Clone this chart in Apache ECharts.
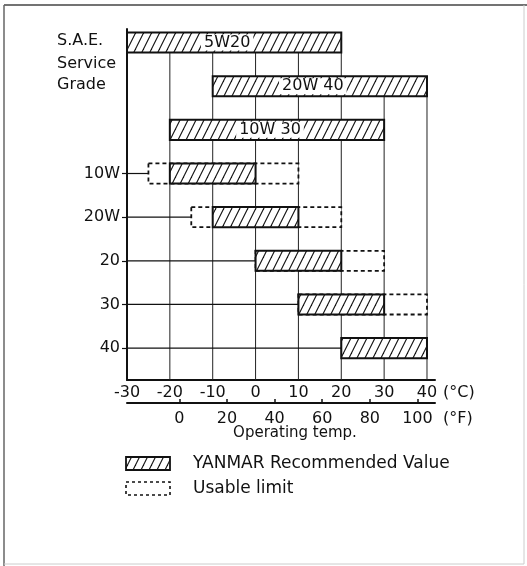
<!DOCTYPE html>
<html>
<head>
<meta charset="utf-8">
<script src="https://cdn.jsdelivr.net/npm/echarts@6/dist/echarts.min.js"></script>
<style>
  html, body { margin: 0; padding: 0; background: #fff; }
  #chart { width: 527px; height: 566px; }
</style>
</head>
<body>
<div id="chart"></div>
<script>
// Temperature scales
const cTicks = [-30, -20, -10, 0, 10, 20, 30, 40];
const fTicks = [0, 20, 40, 60, 80, 100];

// Multigrade oils (label drawn inside the bar)
const multiGrades = ['5W20', '20W 40', '10W 30'];
const multiLow = [-30, -10, -20];
const multiHigh = [20, 40, 30];

// Single grades (label on the axis)
const singleGrades = ['10W', '20W', '20', '30', '40'];
const singleLow = [-20, -10, 0, 10, 20];
const singleHigh = [0, 10, 20, 30, 40];
const limitLow = [-25, -15, 0, 10, null];
const limitHigh = [10, 20, 30, 40, null];

const FONT = '"DejaVu Sans", sans-serif';
const FS = 16;
const INK = '#111';

const C_MIN = cTicks[0];
const C_MAX = cTicks[cTicks.length - 1] + 1.87; // axis line runs a little past 40
const toF = c => c * 9 / 5 + 32;
const ROW_COUNT = multiGrades.length + singleGrades.length;
const Y_MIN = -0.31, Y_MAX = ROW_COUNT - 1 + 0.73;

const rowLabels = [];
multiGrades.forEach(() => rowLabels.push(''));
singleGrades.forEach(g => rowLabels.push(g));
const singleRows = singleGrades.map((_, i) => multiGrades.length + i);

// every recommended range, row by row
const recRows = [];
multiGrades.forEach((g, i) => recRows.push([multiLow[i], multiHigh[i], i, g]));
singleGrades.forEach((g, i) => recRows.push([singleLow[i], singleHigh[i], multiGrades.length + i, '']));

// usable limit ranges
const limitRows = [];
singleGrades.forEach((g, i) => {
  if (limitLow[i] !== null) limitRows.push([limitLow[i], limitHigh[i], multiGrades.length + i]);
});

// leader lines from the axis to where each single grade starts
const leaderRows = singleGrades.map((g, i) => {
  const start = limitLow[i] !== null ? Math.min(limitLow[i], singleLow[i]) : singleLow[i];
  return [C_MIN, start, multiGrades.length + i];
});

// vertical grid lines start at the first bar that spans them
const gridRows = cTicks.slice(1).map(t => {
  const r = recRows.find(d => d[0] <= t && t <= d[1]);
  return [t, t, r ? r[2] : 0];
});

function hatchTile() {
  const c = document.createElement('canvas');
  c.width = 8; c.height = 16;
  const g = c.getContext('2d');
  g.fillStyle = '#fff';
  g.fillRect(0, 0, 8, 16);
  g.strokeStyle = INK;
  g.lineWidth = 1.1;
  for (const dx of [-8, 0, 8]) {
    g.beginPath();
    g.moveTo(dx - 1, 18);
    g.lineTo(dx + 9, -2);
    g.stroke();
  }
  return c;
}
const hatch = { image: hatchTile(), repeat: 'repeat' };

const chart = echarts.init(document.getElementById('chart'), null, { renderer: 'canvas' });

const BAR_FRAC = 0.46;
const txt = { fontFamily: FONT, fontSize: FS, color: INK };

chart.setOption({
  animation: false,
  backgroundColor: '#fff',
  grid: { left: 127, right: 92, top: 29, bottom: 186, containLabel: false },
  xAxis: [
    {
      type: 'value', min: C_MIN, max: C_MAX, position: 'bottom',
      name: '(°C)', nameLocation: 'end', nameGap: 8,
      nameTextStyle: Object.assign({ align: 'left', verticalAlign: 'top', padding: [5, 0, 0, 0] }, txt),
      axisLine: { show: true, onZero: false, lineStyle: { color: INK, width: 2 } },
      axisTick: { show: false, customValues: cTicks },
      axisLabel: Object.assign({ customValues: cTicks, margin: 5 }, txt),
      splitLine: { show: false }
    },
    {
      type: 'value', min: toF(C_MIN), max: toF(C_MAX), position: 'bottom', offset: 23,
      name: '(°F)', nameLocation: 'end', nameGap: 8,
      nameTextStyle: Object.assign({ align: 'left', verticalAlign: 'top', padding: [8, 0, 0, 0] }, txt),
      axisLine: { show: true, onZero: false, lineStyle: { color: INK, width: 2 } },
      axisTick: { show: true, inside: true, length: 4, customValues: fTicks, lineStyle: { color: INK, width: 1.5 } },
      axisLabel: Object.assign({ customValues: fTicks, margin: 8 }, txt),
      splitLine: { show: false }
    }
  ],
  yAxis: {
    type: 'value', min: Y_MIN, max: Y_MAX, inverse: true,
    axisLine: { show: true, onZero: false, lineStyle: { color: INK, width: 2 } },
    axisTick: { show: true, length: 5, customValues: singleRows, lineStyle: { color: INK, width: 1.2 } },
    axisLabel: Object.assign({
      customValues: singleRows, margin: 7,
      formatter: v => rowLabels[Math.round(v)]
    }, txt),
    splitLine: { show: false }
  },
  series: [
    {
      // vertical grid lines
      type: 'custom', z: 1, silent: true,
      encode: { x: [0, 1], y: 2 },
      data: gridRows,
      renderItem: (params, api) => {
        const top = api.coord([api.value(0), api.value(2)]);
        const bot = api.coord([api.value(0), Y_MAX]);
        return { type: 'line', shape: { x1: top[0], y1: top[1], x2: bot[0], y2: bot[1] },
                 style: { stroke: '#222', lineWidth: 1 } };
      }
    },
    {
      // leader lines
      type: 'custom', z: 2, silent: true,
      encode: { x: [0, 1], y: 2 },
      data: leaderRows,
      renderItem: (params, api) => {
        const a = api.coord([api.value(0), api.value(2)]);
        const b = api.coord([api.value(1), api.value(2)]);
        return { type: 'line', shape: { x1: a[0], y1: a[1], x2: b[0], y2: b[1] },
                 style: { stroke: INK, lineWidth: 1.2 } };
      }
    },
    {
      // usable limit (dashed)
      type: 'custom', z: 3, silent: true,
      encode: { x: [0, 1], y: 2 },
      data: limitRows,
      renderItem: (params, api) => {
        const a = api.coord([api.value(0), api.value(2)]);
        const b = api.coord([api.value(1), api.value(2)]);
        const h = api.size([0, 1])[1] * BAR_FRAC;
        return { type: 'rect', shape: { x: a[0], y: a[1] - h / 2, width: b[0] - a[0], height: h },
                 style: { fill: '#fff', stroke: INK, lineWidth: 1.8, lineDash: [4, 3] } };
      }
    },
    {
      // recommended value (hatched)
      type: 'custom', z: 4, silent: true,
      encode: { x: [0, 1], y: 2 },
      data: recRows,
      renderItem: (params, api) => {
        const a = api.coord([api.value(0), api.value(2)]);
        const b = api.coord([api.value(1), api.value(2)]);
        const h = api.size([0, 1])[1] * BAR_FRAC;
        const label = recRows[params.dataIndex][3];
        const children = [{
          type: 'rect', shape: { x: a[0], y: a[1] - h / 2, width: b[0] - a[0], height: h },
          style: { fill: hatch, stroke: INK, lineWidth: 2 }
        }];
        if (label) {
          children.push({
            type: 'text', z2: 10,
            style: {
              text: label, x: (a[0] + b[0]) / 2 - 7, y: a[1],
              align: 'center', verticalAlign: 'middle',
              font: FS + 'px ' + FONT, fill: INK,
              backgroundColor: '#fff', padding: [0, 3]
            }
          });
        }
        return { type: 'group', children };
      }
    }
  ],
  graphic: [
    // page frame
    { type: 'line', shape: { x1: 4, y1: 5, x2: 527, y2: 5 }, style: { stroke: '#444', lineWidth: 1.5 } },
    { type: 'line', shape: { x1: 4, y1: 5, x2: 4, y2: 566 }, style: { stroke: '#666', lineWidth: 1.5 } },
    { type: 'line', shape: { x1: 524, y1: 5, x2: 524, y2: 564 }, style: { stroke: '#ccc', lineWidth: 1 } },
    { type: 'line', shape: { x1: 4, y1: 564, x2: 524, y2: 564 }, style: { stroke: '#ccc', lineWidth: 1 } },
    // y axis heading
    { type: 'text', x: 57, y: 41, style: { text: 'S.A.E.', font: FS + 'px ' + FONT, fill: INK, verticalAlign: 'middle' } },
    { type: 'text', x: 57, y: 64, style: { text: 'Service', font: FS + 'px ' + FONT, fill: INK, verticalAlign: 'middle' } },
    { type: 'text', x: 57, y: 85, style: { text: 'Grade', font: FS + 'px ' + FONT, fill: INK, verticalAlign: 'middle' } },
    // x axis title
    { type: 'text', x: 295, y: 433, style: { text: 'Operating temp.', font: '15px ' + FONT, fill: INK, align: 'center', verticalAlign: 'middle' } },
    // legend
    { type: 'rect', shape: { x: 126, y: 457, width: 44, height: 13 }, style: { fill: hatch, stroke: INK, lineWidth: 1.8 } },
    { type: 'text', x: 193, y: 464, style: { text: 'YANMAR Recommended Value', font: '17px ' + FONT, fill: INK, verticalAlign: 'middle' } },
    { type: 'rect', shape: { x: 126, y: 482, width: 44, height: 13 }, style: { fill: '#fff', stroke: INK, lineWidth: 1.6, lineDash: [3, 3] } },
    { type: 'text', x: 193, y: 489, style: { text: 'Usable limit', font: '17px ' + FONT, fill: INK, verticalAlign: 'middle' } }
  ]
});
</script>
</body>
</html>
